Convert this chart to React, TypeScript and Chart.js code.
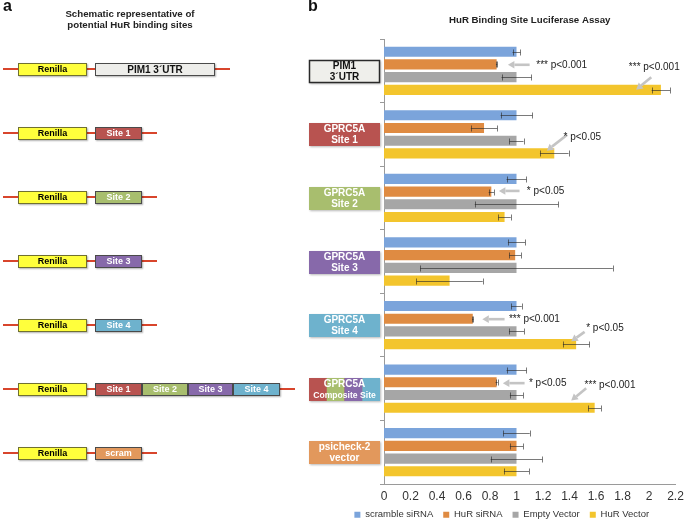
import React, { useEffect, useRef } from 'react';
import { Chart, registerables } from 'chart.js';

Chart.register(...registerables);

// ---------- data ----------
const categoryLabels: string[][] = [
  ['PIM1', '3´UTR'],
  ['GPRC5A', 'Site 1'],
  ['GPRC5A', 'Site 2'],
  ['GPRC5A', 'Site 3'],
  ['GPRC5A', 'Site 4'],
  ['GPRC5A', 'Composite Site'],
  ['psicheck-2', 'vector'],
];

const seriesNames = ['scramble siRNA', 'HuR siRNA', 'Empty Vector', 'HuR Vector'];

const scrambleSiRNA = [1, 1, 1, 1, 1, 1, 1];
const scrambleSiRNAErr = [0.03, 0.12, 0.075, 0.065, 0.04, 0.075, 0.1];
const hurSiRNA = [0.85, 0.755, 0.81, 0.99, 0.67, 0.85, 1.0];
const hurSiRNAErr = [0.005, 0.1, 0.02, 0.045, 0.005, 0.008, 0.05];
const emptyVector = [1, 1, 1, 1, 1, 1, 1];
const emptyVectorErr = [0.113, 0.053, 0.315, 0.727, 0.057, 0.05, 0.195];
const hurVector = [2.09, 1.285, 0.91, 0.495, 1.45, 1.59, 1.0];
const hurVectorErr = [0.07, 0.108, 0.047, 0.25, 0.1, 0.048, 0.095];

const xTickLabels = ['0', '0.2', '0.4', '0.6', '0.8', '1', '1.2', '1.4', '1.6', '1.8', '2', '2.2'];

const chartTitle = 'HuR Binding Site Luciferase Assay';

// significance notes: category, text, text x (value), arrow tail/head x (value)
const annotations = [
  { cat: 0, text: '*** p<0.001', tx: 1.149, ty: -6, arrow: [1.099, -6, 0.935, -6] },
  { cat: 0, text: '*** p<0.001', tx: 1.848, ty: -3.5, arrow: [2.017, 6.5, 1.903, 18.9] },
  { cat: 1, text: '* p<0.05', tx: 1.355, ty: 2.9, arrow: [1.383, 0.3, 1.229, 16.3] },
  { cat: 2, text: '* p<0.05', tx: 1.078, ty: -7, arrow: [1.023, -7, 0.867, -7] },
  { cat: 4, text: '*** p<0.001', tx: 0.943, ty: -5.9, arrow: [0.91, -5.9, 0.742, -5.9] },
  { cat: 4, text: '* p<0.05', tx: 1.526, ty: 3.1, arrow: [1.514, 6.8, 1.413, 16.3] },
  { cat: 5, text: '* p<0.05', tx: 1.094, ty: -5.5, arrow: [1.061, -5.5, 0.897, -5.5] },
  { cat: 5, text: '*** p<0.001', tx: 1.514, ty: -3.8, arrow: [1.526, -0.5, 1.413, 11.9] },
];

// ---------- styles ----------
const FONT = '"Liberation Sans", Arial, Helvetica, sans-serif';
const seriesColors = ['#7ba4db', '#df8b42', '#a6a6a6', '#f3c52d'];
const C_SITE1 = '#b85350';
const C_SITE2 = '#a8be6e';
const C_SITE3 = '#8769aa';
const C_SITE4 = '#6eb2cd';
const C_SCRAM = '#e2985c';
const categoryBoxColors = [
  ['#efefeb'],
  [C_SITE1],
  [C_SITE2],
  [C_SITE3],
  [C_SITE4],
  [C_SITE1, C_SITE2, C_SITE3, C_SITE4],
  [C_SCRAM],
];

const seriesValues = [scrambleSiRNA, hurSiRNA, emptyVector, hurVector];
const seriesErrors = [scrambleSiRNAErr, hurSiRNAErr, emptyVectorErr, hurVectorErr];

function drawArrow(ctx: CanvasRenderingContext2D, x1: number, y1: number, x2: number, y2: number) {
  const ang = Math.atan2(y2 - y1, x2 - x1);
  const head = 6.5;
  const hw = 3.8;
  const bx = x2 - head * Math.cos(ang);
  const by = y2 - head * Math.sin(ang);
  ctx.save();
  ctx.strokeStyle = '#c4c4c4';
  ctx.fillStyle = '#c4c4c4';
  ctx.lineWidth = 2.6;
  ctx.beginPath();
  ctx.moveTo(x1, y1);
  ctx.lineTo(bx, by);
  ctx.stroke();
  ctx.beginPath();
  ctx.moveTo(x2, y2);
  ctx.lineTo(bx + hw * Math.sin(ang), by - hw * Math.cos(ang));
  ctx.lineTo(bx - hw * Math.sin(ang), by + hw * Math.cos(ang));
  ctx.closePath();
  ctx.fill();
  ctx.restore();
}

const extrasPlugin = {
  id: 'extras',
  afterDatasetsDraw(chart: any) {
    const { ctx } = chart;
    const xs = chart.scales.x;
    seriesErrors.forEach((errs, di) => {
      const meta = chart.getDatasetMeta(di);
      meta.data.forEach((bar: any, j: number) => {
        const v = seriesValues[di][j];
        const e = errs[j];
        const x1 = xs.getPixelForValue(v - e);
        const x2 = xs.getPixelForValue(v + e);
        const y = Math.round(bar.y) + 0.5;
        ctx.save();
        ctx.strokeStyle = 'rgba(40,40,40,0.62)';
        ctx.lineWidth = 1;
        ctx.beginPath();
        ctx.moveTo(x1, y);
        ctx.lineTo(x2, y);
        ctx.moveTo(Math.round(x1) + 0.5, y - 3);
        ctx.lineTo(Math.round(x1) + 0.5, y + 3);
        ctx.moveTo(Math.round(x2) + 0.5, y - 3);
        ctx.lineTo(Math.round(x2) + 0.5, y + 3);
        ctx.stroke();
        ctx.restore();
      });
    });
  },
  afterDraw(chart: any) {
    const { ctx, chartArea } = chart;
    const xs = chart.scales.x;
    const ys = chart.scales.y;
    ctx.save();
    // title
    ctx.fillStyle = '#222';
    ctx.font = `bold 9.7px ${FONT}`;
    ctx.textAlign = 'center';
    ctx.textBaseline = 'middle';
    ctx.fillText(chartTitle, (chartArea.left + chartArea.right) / 2, 20.5);

    // category label boxes
    categoryLabels.forEach((lines, i) => {
      const yc = ys.getPixelForValue(i);
      const bw = 71;
      const bh = 23;
      const bx = Math.round(chartArea.left - 75);
      const by = Math.round(yc - bh / 2 + 0.5);
      const fills = categoryBoxColors[i];
      const segW = bw / fills.length;
      ctx.save();
      ctx.shadowColor = 'rgba(0,0,0,0.28)';
      ctx.shadowBlur = 2;
      ctx.shadowOffsetX = 1;
      ctx.shadowOffsetY = 1;
      ctx.fillStyle = fills[0];
      ctx.fillRect(bx, by, bw, bh);
      ctx.restore();
      fills.forEach((f, k) => {
        ctx.fillStyle = f;
        ctx.fillRect(bx + k * segW, by, segW, bh);
      });
      const dark = i === 0;
      if (dark) {
        ctx.strokeStyle = '#2a2a2a';
        ctx.lineWidth = 1.5;
        ctx.strokeRect(bx + 0.5, by + 0.5, bw - 1, bh - 1);
      }
      ctx.fillStyle = dark ? '#111' : '#fff';
      ctx.textAlign = 'center';
      ctx.textBaseline = 'middle';
      const cx = bx + bw / 2;
      ctx.font = `bold 10px ${FONT}`;
      ctx.fillText(lines[0], cx, by + 6.5);
      const second = lines[1];
      ctx.font = second.length > 10 ? `bold 8.6px ${FONT}` : `bold 10px ${FONT}`;
      ctx.fillText(second, cx, by + 17.5);
    });

    // significance notes
    annotations.forEach((a) => {
      const yc = ys.getPixelForValue(a.cat);
      drawArrow(
        ctx,
        xs.getPixelForValue(a.arrow[0]),
        yc + a.arrow[1],
        xs.getPixelForValue(a.arrow[2]),
        yc + a.arrow[3]
      );
      ctx.fillStyle = '#222';
      ctx.font = `10px ${FONT}`;
      ctx.textAlign = 'left';
      ctx.textBaseline = 'middle';
      ctx.fillText(a.text, xs.getPixelForValue(a.tx), yc + a.ty);
    });
    ctx.restore();
  },
};

// ---------- left schematic ----------
const RED = '#d8452c';
type Seg = { label: string; color: string; text: string; w: number };

function Box({ left, top, width, color, text, border, label, size }: any) {
  return (
    <div
      style={{
        position: 'absolute',
        left,
        top,
        width,
        height: 13,
        boxSizing: 'border-box',
        background: color,
        border: `1px solid ${border}`,
        boxShadow: '1px 1px 1.5px rgba(0,0,0,0.3)',
        color: text,
        fontFamily: FONT,
        fontWeight: 'bold',
        fontSize: size || 9,
        lineHeight: '11px',
        textAlign: 'center',
        whiteSpace: 'nowrap',
        overflow: 'hidden',
      }}
    >
      {label}
    </div>
  );
}

function Row({ yc, lineEnd, segs }: { yc: number; lineEnd: number; segs: Seg[] }) {
  let x = 95;
  return (
    <>
      <div style={{ position: 'absolute', left: 3, top: yc - 1, width: lineEnd - 3, height: 2, background: RED }} />
      <Box left={18} top={yc - 6.5} width={69} color="#ffff3c" border="#707030" text="#000" label="Renilla" />
      {segs.map((s, k) => {
        const el = (
          <Box
            key={k}
            left={x}
            top={yc - 6.5}
            width={s.w}
            color={s.color}
            border="#4a4a4a"
            text={s.text}
            label={s.label}
            size={s.label.startsWith('PIM1') ? 10 : 9}
          />
        );
        x += s.w;
        return el;
      })}
    </>
  );
}

const siteSeg = (label: string, color: string, w = 47): Seg => ({ label, color, text: '#fff', w });

export default function App() {
  const ref = useRef<HTMLCanvasElement>(null);

  useEffect(() => {
    document.body.style.margin = '0';
    const chart = new Chart(ref.current as HTMLCanvasElement, {
      type: 'bar',
      data: {
        labels: categoryLabels,
        datasets: seriesNames.map((name, i) => ({
          label: name,
          data: seriesValues[i],
          backgroundColor: seriesColors[i],
          borderWidth: 0,
          categoryPercentage: 0.8,
          barPercentage: 0.8,
        })),
      },
      options: {
        indexAxis: 'y',
        responsive: false,
        animation: false,
        maintainAspectRatio: false,
        layout: { padding: { left: 328, right: 9.5, top: 39, bottom: -7.5 } },
        scales: {
          x: {
            min: 0,
            max: 2.2,
            ticks: {
              stepSize: 0.2,
              autoSkip: false,
              maxRotation: 0,
              padding: 5,
              color: '#333',
              font: { size: 12, family: FONT },
              callback: (_v: any, i: number) => xTickLabels[i],
            },
            grid: { display: false, drawTicks: false },
            border: { display: true, color: '#9a9a9a', width: 1 },
            afterFit: (s: any) => {
              s.height = 16;
              s.paddingRight = 0;
              s.paddingLeft = 0;
            },
          },
          y: {
            ticks: { display: false },
            grid: { display: true, drawOnChartArea: false, drawTicks: true, tickLength: 4, color: '#9a9a9a', offset: true },
            border: { display: true, color: '#9a9a9a', width: 1 },
            afterFit: (s: any) => {
              s.width = 56;
            },
          },
        },
        plugins: {
          legend: {
            position: 'bottom',
            labels: {
              boxWidth: 6,
              boxHeight: 6,
              padding: 10,
              color: '#333',
              font: { size: 9.5, family: FONT },
            },
          },
          tooltip: { enabled: false },
          title: { display: false },
        },
      } as any,
      plugins: [extrasPlugin],
    });
    return () => chart.destroy();
  }, []);

  const rows: { yc: number; lineEnd: number; segs: Seg[] }[] = [
    { yc: 69, lineEnd: 230, segs: [{ label: 'PIM1 3´UTR', color: '#ededea', text: '#111', w: 120 }] },
    { yc: 133, lineEnd: 157, segs: [siteSeg('Site 1', C_SITE1)] },
    { yc: 197, lineEnd: 157, segs: [siteSeg('Site 2', C_SITE2)] },
    { yc: 261, lineEnd: 157, segs: [siteSeg('Site 3', C_SITE3)] },
    { yc: 325, lineEnd: 157, segs: [siteSeg('Site 4', C_SITE4)] },
    {
      yc: 389,
      lineEnd: 295,
      segs: [siteSeg('Site 1', C_SITE1, 47), siteSeg('Site 2', C_SITE2, 46), siteSeg('Site 3', C_SITE3, 45), siteSeg('Site 4', C_SITE4, 47)],
    },
    { yc: 453, lineEnd: 157, segs: [siteSeg('scram', C_SCRAM)] },
  ];

  return (
    <div
      style={{
        position: 'absolute',
        left: 0,
        top: 0,
        width: 685,
        height: 522,
        background: '#fff',
        overflow: 'hidden',
        fontFamily: FONT,
      }}
    >
      <canvas ref={ref} width={685} height={522} style={{ position: 'absolute', left: 0, top: 0, width: 685, height: 522 }} />
      <div style={{ position: 'absolute', left: 3, top: -3, fontWeight: 'bold', fontSize: 16, color: '#111' }}>a</div>
      <div style={{ position: 'absolute', left: 308, top: -3, fontWeight: 'bold', fontSize: 16, color: '#111' }}>b</div>
      <div
        style={{
          position: 'absolute',
          left: 20,
          top: 8,
          width: 220,
          textAlign: 'center',
          fontWeight: 'bold',
          fontSize: 9.7,
          lineHeight: '11px',
          color: '#222',
        }}
      >
        Schematic representative of
        <br />
        potential HuR binding sites
      </div>
      {rows.map((r, i) => (
        <Row key={i} yc={r.yc} lineEnd={r.lineEnd} segs={r.segs} />
      ))}
    </div>
  );
}
